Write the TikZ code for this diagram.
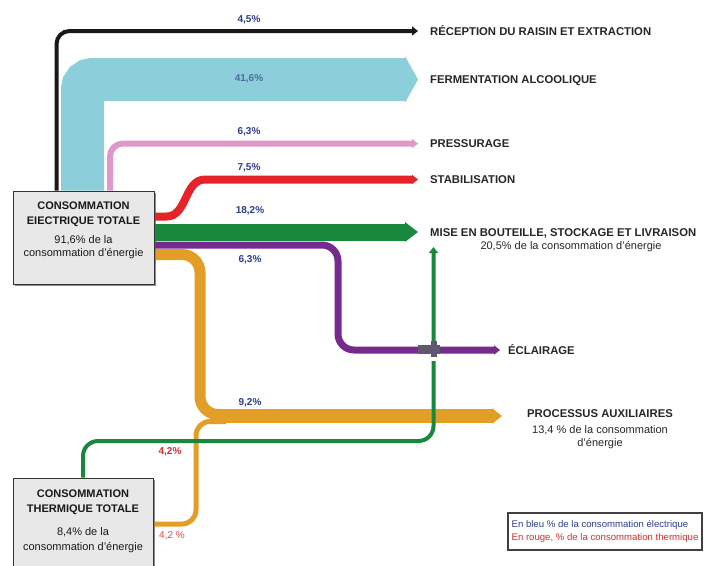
\documentclass[tikz,border=0pt]{standalone}
\usepackage{fontspec}
\setmainfont{Liberation Sans}
\usepackage{tikz}
\usetikzlibrary{arrows.meta,calc,positioning,shadows}
\definecolor{flowblue}{RGB}{140,206,218}
\definecolor{flowpink}{RGB}{222,152,202}
\definecolor{flowred}{RGB}{230,35,40}
\definecolor{flowgreen}{RGB}{24,136,60}
\definecolor{flowpurple}{RGB}{118,42,140}
\definecolor{floworange}{RGB}{227,158,40}
\definecolor{pctblue}{RGB}{45,60,140}
\definecolor{pctred}{RGB}{215,45,45}
\definecolor{bridge}{RGB}{95,88,110}
\tikzset{
  smalltip/.style={-{Triangle[length=6pt,width=9pt]}},
  destlabel/.style={anchor=west, inner sep=3pt, text=black!85, text height=8pt, text depth=0pt,
    font=\fontsize{11.3}{13}\selectfont\bfseries},
  pct/.style={inner sep=1pt, text=pctblue, font=\fontsize{10}{12}\selectfont\bfseries},
  totalbox/.style={draw=black!80, line width=1pt, fill=black!9, minimum width=141pt,
    drop shadow={shadow xshift=1.5pt, shadow yshift=-1.5pt, fill=black!60}},
  boxtext/.style={anchor=north, align=center, inner sep=0pt, text=black!90,
    font=\fontsize{11}{14.5}\selectfont},
}
\begin{document}
\begin{tikzpicture}[x=1pt,y=-1pt]
        \useasboundingbox (0,0) rectangle (714,565);
        %Boxes (drawn later, placed first)
        \path (83.5,237.5) node[totalbox, minimum height=93pt] (elec) {};
        \path (83,524) node[totalbox, minimum height=92pt, minimum width=140pt] (therm) {};
        %Destinations
        \node[destlabel] (rec) at (427,31) {RÉCEPTION DU RAISIN ET EXTRACTION};
        \node[destlabel] (ferm) at (427,79.5) {FERMENTATION ALCOOLIQUE};
        \node[destlabel] (press) at (427,143.5) {PRESSURAGE};
        \node[destlabel] (stab) at (427,179.5) {STABILISATION};
        \node[destlabel] (mise) at (427,232) {MISE EN BOUTEILLE, STOCKAGE ET LIVRAISON};
        \node[font=\fontsize{11}{13}\selectfont, text=black!85] (misesub) at (571,247) {20,5\% de la consommation d'énergie};
        \node[destlabel] (ecl) at (505,350) {ÉCLAIRAGE};
        \node[align=center, text=black!85, font=\fontsize{11}{12.5}\selectfont] (proc) at (600,429)
          {\textbf{\fontsize{11.3}{13}\selectfont PROCESSUS AUXILIAIRES}\\[4pt]13,4 \% de la consommation\\d'énergie};
        \coordinate (omerge) at (210,416);
        \coordinate (paux) at (502,416);
        \coordinate (gturn) at (433.5,441);
        \coordinate (misein) at (433.5,247);
        %Flows from the electric total
        \draw[line width=43pt, flowblue, rounded corners=10pt, -{Triangle[length=13pt,width=46pt]}, shorten >=9pt]
          ([xshift=70pt]elec.north west) |- (ferm.west);
        \draw[line width=4pt, black!90, rounded corners=13pt, smalltip, shorten >=9pt]
          ([xshift=44pt]elec.north west) |- (rec.west);
        \draw[line width=6pt, flowpink, rounded corners=13pt, smalltip, shorten >=9pt]
          ([xshift=97.5pt]elec.north west) |- (press.west);
        \draw[line width=8pt, flowred, smalltip, shorten >=9pt]
          ([yshift=21pt]elec.east) -- ++(12,0) to[out=0,in=180] ($(stab.west)+(-222,0)$) -- (stab.west);
        \draw[line width=17pt, flowgreen, -{Triangle[length=13pt,width=19pt]}, shorten >=9pt]
          (elec.east |- mise.west) -- (mise.west);
        %Flows into the auxiliary processes
        \draw[line width=14pt, floworange, -{Triangle[length=10pt,width=15pt]}] (omerge) -- (paux);
        \draw[line width=11pt, floworange, rounded corners=18pt]
          ([yshift=-17pt]elec.east) -| ($(omerge)+(-10,-1.5)$) -- ++(30,0);
        \draw[line width=5pt, floworange, rounded corners=14pt]
          (therm.east) -| ($(omerge)+(-14,5.5)$) -- ++(30,0);
        %Thermal flow to bottling
        \draw[line width=4pt, flowgreen, rounded corners=15pt, smalltip]
          (therm.north) |- (gturn) -- (misein);
        %Lighting, crossing over the green line
        \draw[line width=7pt, flowpurple, rounded corners=16pt, smalltip, shorten >=5pt]
          ([yshift=-7.5pt]elec.east) -| ($(ecl.west)+(-167,0)$) -- (ecl.west);
        \fill[white] (430,357) rectangle (437,361);
        \fill[bridge] (418,344.5) rectangle (440,353.5);
        \fill[bridge] (430.5,341) rectangle (436.5,357);
        %Boxes
        \path (83.5,237.5) node[totalbox, minimum height=93pt] {};
        \path (83,524) node[totalbox, minimum height=92pt, minimum width=140pt] {};
        \node[boxtext, below=11.5pt of elec.north] (electext)
          {\textbf{CONSOMMATION}\\\textbf{EIECTRIQUE TOTALE}\\[5pt]91,6\% de la\\[-1.5pt]consommation d'énergie};
        \node[boxtext, below=12.5pt of therm.north] (thermtext)
          {\textbf{CONSOMMATION}\\\textbf{THERMIQUE TOTALE}\\[9pt]8,4\% de la\\consommation d'énergie};
        %Percentages
        \node[pct] (p1) at (249,20) {4,5\%};
        \node[pct, text={rgb,255:red,75;green,110;blue,160}] (p2) at (249,79) {41,6\%};
        \node[pct] (p3) at (249,132) {6,3\%};
        \node[pct] (p4) at (249,168) {7,5\%};
        \node[pct] (p5) at (250,211) {18,2\%};
        \node[pct] (p6) at (250,260) {6,3\%};
        \node[pct] (p7) at (250,403) {9,2\%};
        \node[pct, text=pctred] (p8) at (170,452) {4,2\%};
        \node[pct, text=pctred!85, font=\fontsize{10}{12}\selectfont] (p9) at (172,536) {4,2 \%};
        %Legend
        \node[draw=black!75, line width=1.2pt, minimum width=194pt, minimum height=37pt, inner xsep=1pt,
          align=left, font=\fontsize{9.6}{13.5}\selectfont] (legend) at (605,531.5)
          {\textcolor{pctblue}{En bleu \% de la consommation électrique}\\
           \textcolor{pctred}{En rouge, \% de la consommation thermique}};
\end{tikzpicture}
\end{document}
